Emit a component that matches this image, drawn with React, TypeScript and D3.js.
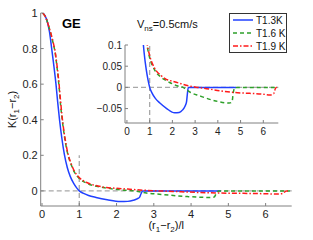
import React from "react";
import * as d3 from "d3";

const seriesNames = ["T1.3K", "T1.6 K", "T1.9 K"];
const seriesColors = ["#2040ff", "#2ea02a", "#ff1a1a"];
const seriesDash = ["", "4,3", "5,2,1.5,2"];

const t13: [number, number][] = [
  [0.02, 1.0], [0.08, 0.985], [0.15, 0.945], [0.2, 0.895], [0.26, 0.8], [0.32, 0.7],
  [0.375, 0.6], [0.42, 0.5], [0.47, 0.4], [0.53, 0.3], [0.6, 0.205], [0.68, 0.13],
  [0.76, 0.08], [0.85, 0.042], [0.93, 0.017], [1.0, 0.0], [1.1, -0.013], [1.25, -0.026],
  [1.45, -0.037], [1.75, -0.05], [2.1, -0.06], [2.3, -0.059], [2.45, -0.053],
  [2.55, -0.045], [2.62, -0.035], [2.66, -0.015], [2.7, 0.0], [3.5, 0.0], [4.8, 0.0],
];
const t16: [number, number][] = [
  [0.02, 1.0], [0.1, 0.975], [0.2, 0.91], [0.3, 0.83], [0.35, 0.78], [0.4, 0.7],
  [0.46, 0.58], [0.5, 0.48], [0.56, 0.37], [0.63, 0.27], [0.7, 0.2], [0.77, 0.155],
  [0.87, 0.105], [1.0, 0.07], [1.2, 0.043], [1.5, 0.024], [1.73, 0.016], [1.9, 0.011],
  [2.2, 0.004], [2.47, 0.0], [2.8, -0.012], [3.2, -0.02], [3.9, -0.032], [4.5, -0.037],
  [4.62, -0.035], [4.68, -0.012], [4.75, 0.0], [5.5, 0.0], [6.65, 0.0],
];
const t19: [number, number][] = [
  [0.02, 1.0], [0.1, 0.975], [0.2, 0.912], [0.3, 0.835], [0.35, 0.785], [0.4, 0.71],
  [0.46, 0.595], [0.5, 0.5], [0.56, 0.38], [0.63, 0.28], [0.7, 0.205], [0.77, 0.16],
  [0.87, 0.11], [1.0, 0.075], [1.2, 0.047], [1.5, 0.028], [1.73, 0.019], [1.9, 0.016],
  [2.3, 0.01], [2.7, 0.004], [3.1, 0.0], [3.5, -0.003], [4.1, -0.008], [4.7, -0.012],
  [5.4, -0.014], [6.0, -0.016], [6.3, -0.018], [6.45, -0.015], [6.56, 0.0], [6.6, 0.0],
];
const allSeries = [t13, t16, t19];

const mainXTicks = [0, 1, 2, 3, 4, 5, 6];
const mainYTicks = [0, 0.2, 0.4, 0.6, 0.8, 1];
const insetXTicks = [0, 1, 2, 3, 4, 5, 6];
const insetYTicks = [-0.05, 0, 0.05, 0.1];

const font = "'Liberation Sans', Arial, Helvetica, sans-serif";
const axisColor = "#808080";
const refColor = "#a8a8a8";

export default function App() {
  const W = 313, H = 240;
  // main axes
  const mx = d3.scaleLinear().domain([-0.035, 6.7]).range([40.7, 291.7]);
  const my = d3.scaleLinear().domain([-0.085, 1]).range([206, 13]);
  // inset axes
  const ix = d3.scaleLinear().domain([-0.085, 6.66]).range([125, 278.3]);
  const iy = d3.scaleLinear().domain([-0.084, 0.1]).range([123, 45]);

  const mainLine = d3.line<[number, number]>().x(d => mx(d[0])).y(d => my(d[1])).curve(d3.curveMonotoneX);
  const insetLine = d3.line<[number, number]>().x(d => ix(d[0])).y(d => iy(d[1])).curve(d3.curveMonotoneX);

  const [mx0, mx1] = mx.range();
  const [my0, my1] = my.range();
  const [ix0, ix1] = ix.range();
  const [iy0, iy1] = iy.range();

  return (
    <svg width={W} height={H} style={{ position: "absolute", left: 0, top: 0, background: "#fff" }} fontFamily={font}>
      <defs>
        <clipPath id="mainClip">
          <rect x={mx0} y={my1} width={mx1 - mx0} height={my0 - my1} />
        </clipPath>
        <clipPath id="insetClip">
          <rect x={ix0} y={iy1} width={ix1 - ix0} height={iy0 - iy1} />
        </clipPath>
      </defs>
      <rect x={0} y={0} width={W} height={H} fill="#fff" />

      {/* main reference lines */}
      <line x1={mx0} x2={mx1} y1={my(0)} y2={my(0)} stroke={refColor} strokeWidth={1.3} strokeDasharray="5,3" />
      <line x1={mx(1)} x2={mx(1)} y1={my0} y2={my(0.2)} stroke={refColor} strokeWidth={1.3} strokeDasharray="5,3" />

      {/* main curves */}
      <g clipPath="url(#mainClip)">
        {allSeries.map((s, i) => (
          <path key={i} d={mainLine(s) || ""} fill="none" stroke={seriesColors[i]} strokeWidth={1.5}
            strokeDasharray={seriesDash[i] || undefined} />
        ))}
      </g>

      {/* main axes */}
      <line x1={mx0} x2={mx1} y1={my0} y2={my0} stroke={axisColor} strokeWidth={1} />
      <line x1={mx0} x2={mx0} y1={my0} y2={my1} stroke={axisColor} strokeWidth={1} />
      {mainXTicks.map(t => (
        <g key={"mxt" + t}>
          <line x1={mx(t)} x2={mx(t)} y1={my0} y2={my0 - 3} stroke={axisColor} />
          <text x={mx(t)} y={my0 + 12} fontSize={11} textAnchor="middle" fill="#222">{t}</text>
        </g>
      ))}
      {mainYTicks.map(t => (
        <g key={"myt" + t}>
          <line x1={mx0} x2={mx0 + 3} y1={my(t)} y2={my(t)} stroke={axisColor} />
          <text x={mx0 - 3} y={my(t) + 4} fontSize={11} textAnchor="end" fill="#222">{t}</text>
        </g>
      ))}
      <text x={(mx0 + mx1) / 2} y={229} fontSize={11} textAnchor="middle" fill="#111">
        (r<tspan fontSize={8} dy={3}>1</tspan><tspan dy={-3}>−r</tspan><tspan fontSize={8} dy={3}>2</tspan><tspan dy={-3}>)/l</tspan>
      </text>
      <text transform={`translate(16,${(my0 + my1) / 2}) rotate(-90)`} fontSize={11} textAnchor="middle" fill="#111">
        K(r<tspan fontSize={8} dy={3}>1</tspan><tspan dy={-3}>−r</tspan><tspan fontSize={8} dy={3}>2</tspan><tspan dy={-3}>)</tspan>
      </text>
      <text x={62} y={28} fontSize={13} fontWeight="bold" fill="#000">GE</text>

      {/* inset reference lines */}
      <line x1={ix0} x2={ix1} y1={iy(0)} y2={iy(0)} stroke={refColor} strokeWidth={1.3} strokeDasharray="5,3" />
      <line x1={ix(1)} x2={ix(1)} y1={iy0} y2={iy1} stroke={refColor} strokeWidth={1.3} strokeDasharray="5,3" />

      {/* inset curves */}
      <g clipPath="url(#insetClip)">
        {allSeries.map((s, i) => (
          <path key={i} d={insetLine(s) || ""} fill="none" stroke={seriesColors[i]} strokeWidth={1.5}
            strokeDasharray={seriesDash[i] || undefined} />
        ))}
      </g>

      {/* inset axes */}
      <line x1={ix0} x2={ix1} y1={iy0} y2={iy0} stroke={axisColor} strokeWidth={1} />
      <line x1={ix0} x2={ix0} y1={iy0} y2={iy1} stroke={axisColor} strokeWidth={1} />
      {insetXTicks.map(t => (
        <g key={"ixt" + t}>
          <line x1={ix(t)} x2={ix(t)} y1={iy0} y2={iy0 - 3} stroke={axisColor} />
          <text x={ix(t)} y={iy0 + 12} fontSize={10} textAnchor="middle" fill="#222">{t}</text>
        </g>
      ))}
      {insetYTicks.map(t => (
        <g key={"iyt" + t}>
          <line x1={ix0} x2={ix0 + 3} y1={iy(t)} y2={iy(t)} stroke={axisColor} />
          <text x={ix0 - 3} y={iy(t) + 3.5} fontSize={10} textAnchor="end" fill="#222">{t < 0 ? "−" + Math.abs(t) : t}</text>
        </g>
      ))}
      <text x={137} y={28} fontSize={11} fill="#111">
        V<tspan fontSize={8} dy={3}>ns</tspan><tspan dy={-3}>=0.5cm/s</tspan>
      </text>

      {/* legend */}
      <rect x={229.5} y={13.5} width={57} height={39} fill="#fff" stroke="#333" strokeWidth={1} />
      {seriesNames.map((n, i) => (
        <g key={n}>
          <line x1={233} x2={253} y1={20 + i * 13} y2={20 + i * 13} stroke={seriesColors[i]} strokeWidth={1.5}
            strokeDasharray={seriesDash[i] || undefined} />
          <text x={256} y={23.5 + i * 13} fontSize={10} fill="#111">{n}</text>
        </g>
      ))}
    </svg>
  );
}
